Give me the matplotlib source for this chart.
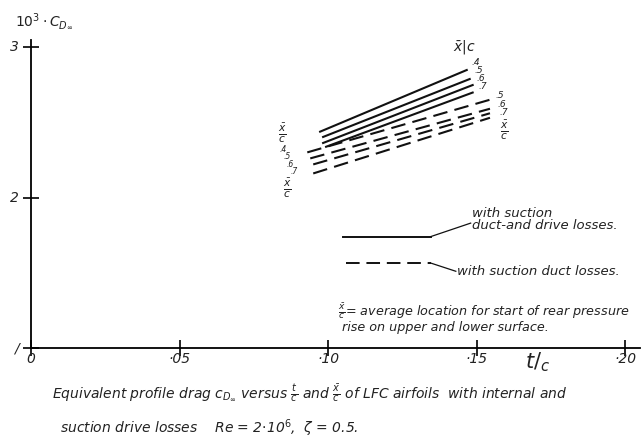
import matplotlib.pyplot as plt

plt.rcParams['font.family'] = ['DejaVu Sans']
plt.rcParams['mathtext.fontset'] = 'dejavusans'

# x-bar/c values for each curve
xc_solid = ['.4', '.5', '.6', '.7']
xc_dashed = ['.4', '.5', '.6', '.7']

# with suction duct- and drive losses (solid)
solid_t0 = [0.097, 0.098, 0.098, 0.099]
solid_t1 = [0.147, 0.148, 0.149, 0.149]
solid_cd0 = [2.435, 2.40, 2.36, 2.335]
solid_cd1 = [2.85, 2.79, 2.75, 2.70]

# with suction duct losses only (dashed)
dashed_t0 = [0.093, 0.094, 0.095, 0.095]
dashed_t1 = [0.1545, 0.1545, 0.1545, 0.1545]
dashed_cd0 = [2.30, 2.26, 2.22, 2.16]
dashed_cd1 = [2.65, 2.59, 2.56, 2.53]

x_ticks = [0, 0.05, 0.10, 0.15, 0.20]
x_tick_labels = ['0', '·05', '·10', '·15', '·20']
y_ticks = [1, 2, 3]
y_tick_labels = ['/', '2', '3']

fig = plt.figure(figsize=(6.44, 4.43), dpi=100)
ax = fig.add_axes([31 / 644, 0.2144, 609 / 644, 0.6964])
ax.set_xlim(0, 0.205)
ax.set_ylim(1, 3.05)

for s in ['top', 'right']:
    ax.spines[s].set_visible(False)
for s in ['left', 'bottom']:
    ax.spines[s].set_linewidth(1.3)
ax.set_xticks(x_ticks)
ax.set_yticks(y_ticks)
ax.set_xticklabels([])
ax.set_yticklabels([])
ax.tick_params(direction='inout', length=12, width=1.2)

tf = dict(style='italic', color='#222222')
for x, lab in zip(x_ticks, x_tick_labels):
    ax.text(x, 0.925, lab, ha='center', va='center', fontsize=10, **tf)
for y, lab in zip(y_ticks, y_tick_labels):
    ax.text(-0.004, y, lab, ha='right', va='center', fontsize=10, **tf)
ax.text(0.1707, 0.905, r'$t/_{c}$', ha='center', va='center', fontsize=15, **tf)
fig.text(15 / 644, 1 - 22 / 443, r'$10^{3}\cdot C_{D_{\infty}}$', fontsize=10,
         ha='left', va='center', **tf)

# curves
for a, b, c, d in zip(solid_t0, solid_t1, solid_cd0, solid_cd1):
    ax.plot([a, b], [c, d], color='#111111', lw=1.5, solid_capstyle='butt')
for a, b, c, d in zip(dashed_t0, dashed_t1, dashed_cd0, dashed_cd1):
    ax.plot([a, b], [c, d], color='#111111', lw=1.5, dashes=(7, 3.5))

# curve labels, left end
ax.text(0.0845, 2.43, r'$\frac{\bar{x}}{c}$', fontsize=11, ha='center', va='center', **tf)
for i, lab in enumerate(xc_dashed):
    ax.text(0.0848 + i * 0.0013, 2.32 - i * 0.05, lab, fontsize=5.5, ha='center',
            va='center', **tf)
ax.text(0.0862, 2.06, r'$\frac{\bar{x}}{c}$', fontsize=11, ha='center', va='center', **tf)

# curve labels, right end
ax.text(0.146, 3.0, r'$\bar{x}|c$', fontsize=10, ha='center', va='center', **tf)
for i, lab in enumerate(xc_solid):
    ax.text(0.1498 + i * 0.0008, 2.895 - i * 0.052, lab, fontsize=6.5,
            ha='center', va='center', **tf)
for i, lab in enumerate(xc_dashed[1:]):
    ax.text(0.1578 + i * 0.0006, 2.675 - i * 0.056, lab, fontsize=6.5, ha='center',
            va='center', **tf)
ax.text(0.1592, 2.45, r'$\frac{\bar{x}}{c}$', fontsize=11, ha='center', va='center', **tf)

# legend, hand drawn
ax.plot([0.105, 0.1345], [1.74, 1.74], color='#111111', lw=1.4)
ax.plot([0.1345, 0.148], [1.74, 1.83], color='#111111', lw=0.9)
ax.text(0.1485, 1.855, 'with suction\nduct-and drive losses.', fontsize=9.5,
        ha='left', va='center', linespacing=0.95, **tf)
ax.plot([0.106, 0.1345], [1.565, 1.565], color='#111111', lw=1.4, dashes=(7, 3.5))
ax.plot([0.1345, 0.143], [1.565, 1.51], color='#111111', lw=0.9)
ax.text(0.1435, 1.51, 'with suction duct losses.', fontsize=9.5,
        ha='left', va='center', **tf)
ax.text(0.1034, 1.20, r'$\frac{\bar{x}}{c}$' + '= average location for start of rear pressure\n'
        ' rise on upper and lower surface.', fontsize=9.2, ha='left', va='center',
        linespacing=1.0, **tf)

fig.text(52 / 644, 1 - 393 / 443,
         r'Equivalent profile drag $c_{D_\infty}$ versus $\frac{t}{c}$ and $\frac{\bar{x}}{c}$'
         ' of LFC airfoils  with internal and', fontsize=10, ha='left', va='center', **tf)
fig.text(60 / 644, 1 - 428 / 443, r'suction drive losses    Re = 2$\cdot$10$^{6}$,  $\zeta$ = 0.5.',
         fontsize=10, ha='left', va='center', **tf)

fig.savefig('out.png', dpi=100)
